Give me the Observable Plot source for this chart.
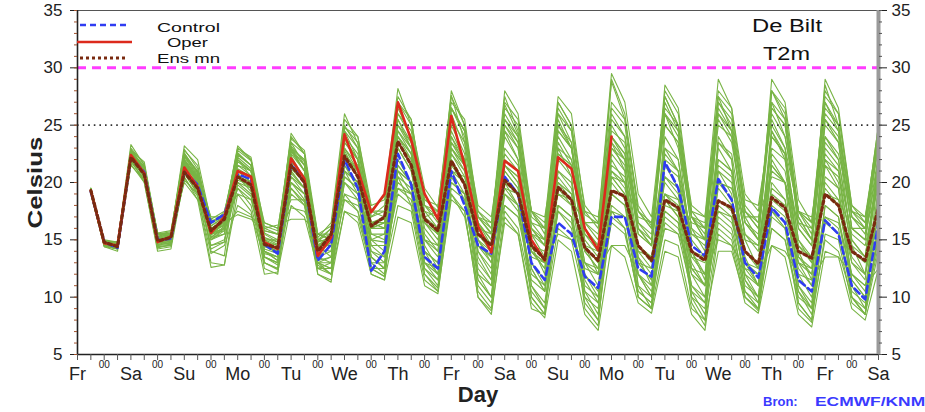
<!DOCTYPE html>
<html><head><meta charset="utf-8">
<script src="https://cdn.jsdelivr.net/npm/d3@7"></script>
<script src="https://cdn.jsdelivr.net/npm/@observablehq/plot@0.6"></script>
<style>
body{margin:0;background:#fff;font-family:"Liberation Sans",Arial,sans-serif;}
#wrap{position:relative;width:925px;height:412px;overflow:hidden;background:#fff;}
#over{position:absolute;left:0;top:0;pointer-events:none;}
</style></head><body><div id="wrap"></div>
<script>
// ---- tick labels ----
const dayLabels = ["Fr","Sa","Su","Mo","Tu","We","Th","Fr","Sa","Su","Mo","Tu","We","Th","Fr","Sa"];
const yTicks = [5, 10, 15, 20, 25, 30, 35];
const yMinorTicks = d3.range(5, 36, 1);
const dayTicks = d3.range(0, 16);
const midnightTicks = d3.range(0.5, 15, 1);
const sixHourTicks = d3.range(0, 15.01, 0.25);
const warnLevel = 30;
const summerLevel = 25;

// ---- series (6-hourly, lead days 0.25 .. 15) ----
const operT = [19.3,14.7,14.5,22.4, 20.8,14.8,15.3,21.3, 19.6,15.6,17.0,21.0, 20.5,14.8,14.2,22.1,
  20.3,13.6,15.2,24.2, 21.1,17.4,19.0,27.0, 23.7,19.0,16.8,25.8, 21.5,16.2,13.9,21.9,
  21.0,15.0,13.2,22.2, 21.2,16.0,14.1,24.0];
const controlT = [19.2,14.8,14.3,22.2, 20.9,15.0,15.1,21.0, 19.8,16.5,17.2,20.7, 20.3,14.6,13.8,21.6,
  20.0,13.2,14.6,22.0, 19.5,12.3,14.0,22.5, 19.8,13.5,12.5,21.0, 18.0,14.5,13.8,20.5,
  19.0,13.0,11.5,16.5, 15.5,11.8,10.8,17.0, 17.0,12.5,11.8,21.8, 19.5,14.5,13.6,20.3,
  18.5,13.0,11.7,17.8, 16.5,11.5,10.5,16.7, 15.5,11.0,9.8,16.5];
const ensMeanT = [19.3,14.8,14.4,22.2, 20.7,14.9,15.2,20.9, 19.5,15.8,16.8,20.5, 19.8,14.6,14.3,21.5,
  20.0,14.0,15.5,22.3, 20.5,16.2,17.0,23.6, 21.5,16.8,15.8,21.9, 19.8,15.5,14.5,20.2,
  19.0,14.5,13.3,19.6, 18.5,14.3,13.2,19.3, 18.8,14.5,13.2,18.5, 17.8,14.0,13.2,18.4,
  17.8,14.0,12.9,18.7, 17.8,14.0,13.4,19.0, 18.0,14.0,13.2,17.8];

// ---- ensemble members ----
const member01 = [19.4,14.9,14.6,22.9, 21.2,15.3,15.6,22.6, 20.8,16.4,17.4,22.8, 21.9,15.6,15.0,24.3, 22.5,15.2,16.5,26.0, 23.4,17.6,18.8,28.2, 25.0,19.5,17.8,27.6, 23.5,17.0,15.6,26.8, 24.2,17.5,16.0,25.5, 23.0,17.2,16.4,28.8, 25.5,18.0,16.2,26.0, 23.0,17.0,15.0,27.5, 24.5,17.5,16.0,27.0, 24.0,17.5,15.5,28.5, 25.0,17.0,15.5,24.5];
const member02 = [19.1,14.5,14.2,21.8, 20.3,14.3,14.6,20.4, 18.8,13.8,14.5,18.0, 17.2,13.5,13.0,19.5, 18.3,12.8,12.0,19.0, 17.5,12.5,11.8,20.5, 18.0,12.0,10.8,19.0, 17.0,11.0,9.5,17.5, 16.0,10.5,9.0,16.0, 15.0,10.0,8.0,17.5, 16.0,10.0,9.0,18.5, 17.0,10.5,8.5,16.0, 15.0,10.0,9.0,17.5, 16.0,10.5,8.5,15.0, 14.0,10.0,9.0,14.5];
const member03 = [19.3,14.6,14.4,22.0, 20.6,14.8,15.0,21.0, 19.4,15.5,16.4,20.6, 20.0,14.4,14.0,22.3, 20.3,14.0,15.0,23.0, 21.0,16.0,16.5,24.0, 22.0,16.5,15.0,22.5, 20.5,15.0,14.0,21.0, 19.5,14.0,12.5,20.5, 19.0,14.0,12.5,19.0, 18.0,14.0,13.5,20.0, 18.5,13.5,12.0,19.5, 18.0,13.0,12.0,18.0, 17.0,13.0,12.5,20.0, 18.5,13.5,12.0,17.0];
const member04 = [19.2,14.8,14.6,22.2, 20.9,15.1,15.4,20.8, 19.0,16.0,16.5,17.2, 16.8,15.8,15.5,17.8, 17.5,15.0,14.8,18.5, 18.0,16.5,16.0,19.5, 19.0,17.5,17.0,20.0, 19.0,15.5,14.5,18.0, 17.0,14.0,13.0,15.5, 15.0,13.0,12.5,14.5, 14.5,12.0,11.0,16.0, 15.5,12.5,12.0,15.0, 14.5,12.5,12.0,14.5, 14.0,12.0,11.5,13.5, 13.5,12.0,11.0,12.5];
const member05 = [19.5,14.7,14.7,22.7, 21.0,15.0,15.3,22.0, 20.0,15.2,16.2,21.5, 21.0,14.5,13.8,23.0, 21.0,13.8,14.8,24.5, 22.0,16.0,17.0,26.5, 24.0,17.5,16.0,26.0, 23.0,16.0,14.5,25.0, 23.0,16.0,14.5,27.0, 25.0,18.0,16.5,29.5, 27.0,19.0,17.0,27.5, 25.0,18.0,17.0,29.0, 26.5,19.0,17.5,26.0, 24.0,17.0,15.0,27.0, 24.5,17.5,16.5,25.0];
const member06 = [19.0,14.4,14.0,22.0, 20.0,14.2,14.4,21.0, 19.0,13.0,12.8,20.0, 19.0,12.5,12.0,21.0, 19.5,12.0,11.3,21.5, 19.5,12.5,11.8,22.0, 20.0,12.0,10.5,21.0, 19.0,10.5,9.0,20.0, 18.0,10.0,8.5,19.5, 18.0,9.0,7.5,20.0, 18.5,10.0,9.0,21.5, 19.5,9.5,7.5,21.0, 19.0,10.5,9.0,22.0, 20.0,9.5,8.0,21.5, 19.5,10.0,8.5,20.0];
const member07 = [19.3,14.9,14.8,23.3, 21.5,15.5,15.7,22.0, 20.5,15.0,16.0,22.0, 21.0,14.0,13.5,23.5, 21.5,13.5,14.0,22.5, 21.0,15.0,15.5,25.0, 23.0,16.0,14.5,24.0, 21.5,14.0,12.5,22.5, 21.0,13.0,11.5,23.5, 21.5,14.5,13.0,22.0, 20.0,13.0,11.5,24.0, 22.0,14.0,12.0,23.0, 21.0,14.0,13.0,25.0, 23.0,15.0,13.0,24.0, 22.0,15.0,13.5,22.0];
const member08 = [19.2,14.6,14.5,22.5, 20.8,14.6,14.9,21.5, 20.0,16.8,17.5,21.8, 21.0,16.0,15.5,20.0, 19.0,14.5,13.5,21.0, 20.0,14.0,13.0,23.0, 21.0,15.0,14.0,25.5, 23.5,16.5,15.0,24.0, 22.0,15.0,13.0,21.0, 19.5,13.0,11.0,20.5, 19.0,12.0,10.0,19.0, 17.5,11.0,9.5,20.0, 18.5,12.5,11.0,21.5, 20.0,13.0,11.0,19.5, 18.0,12.0,10.5,19.5];
const member09 = [19.4,14.8,14.3,22.1, 20.5,14.9,15.1,21.2, 19.6,15.6,16.0,19.5, 18.5,14.0,13.2,20.5, 19.0,13.0,12.5,20.0, 18.5,12.0,11.5,21.5, 20.0,13.5,12.0,23.0, 21.5,14.5,13.5,25.5, 23.5,16.0,15.0,26.5, 24.5,16.0,14.0,25.0, 23.0,15.5,14.5,28.0, 26.0,17.0,15.5,26.0, 24.0,16.5,15.0,28.0, 26.0,17.5,16.0,27.0, 25.0,17.0,16.0,23.5];
const member10 = [19.1,14.5,14.3,21.6, 20.0,14.0,14.2,20.5, 18.5,12.6,12.8,19.0, 17.5,12.0,12.2,18.0, 17.0,12.5,12.0,17.5, 16.5,12.0,11.5,17.0, 16.5,11.0,10.3,19.0, 17.5,10.0,8.5,17.0, 15.5,9.5,8.2,15.0, 14.0,8.5,7.1,14.5, 13.5,9.5,8.6,14.0, 13.5,8.5,7.1,15.5, 14.5,9.5,8.6,14.5, 13.5,8.5,7.4,14.0, 13.5,9.0,8.0,12.5];
const member11 = [19.3,14.7,14.6,22.3, 21.0,15.6,15.8,22.3, 21.0,16.5,17.0,22.5, 21.5,16.5,16.0,23.0, 22.0,15.5,15.5,23.5, 22.0,17.5,17.5,25.0, 23.5,18.5,18.0,26.5, 24.5,18.0,17.0,25.0, 23.5,17.5,17.0,24.0, 22.0,17.5,17.0,23.5, 22.0,17.5,16.5,25.0, 23.5,17.5,17.0,26.0, 24.5,18.5,18.0,25.5, 23.0,17.5,17.0,24.0, 22.5,17.5,17.0,23.0];
const member12 = [19.2,14.7,14.4,22.4, 21.0,15.0,15.2,21.6, 20.2,15.4,16.6,22.2, 21.2,14.8,14.5,22.5, 21.0,14.5,15.0,23.8, 22.0,15.5,15.0,23.0, 21.0,15.0,13.5,22.0, 20.0,13.0,11.5,19.0, 17.5,12.0,11.0,18.0, 17.0,12.5,12.0,17.5, 17.0,13.0,12.5,19.0, 18.0,13.0,11.0,21.0, 20.0,13.5,11.0,22.5, 21.0,14.5,13.0,23.5, 22.0,15.0,13.5,21.0];
const member13 = [19.4,14.6,14.5,22.6, 21.3,15.0,15.0,22.2, 20.6,15.8,16.5,23.0, 22.0,15.5,14.8,23.5, 22.5,15.0,15.5,25.0, 23.0,17.0,17.5,27.5, 25.5,18.0,16.5,28.0, 25.0,17.0,15.5,27.5, 24.5,16.5,15.0,26.0, 23.5,16.0,14.5,29.0, 26.0,17.5,16.0,27.5, 25.0,17.0,15.0,27.0, 25.0,17.5,16.0,28.0, 25.5,17.0,15.0,29.0, 26.5,18.0,16.5,25.0];
const member14 = [19.3,14.8,14.7,22.0, 20.7,15.2,15.5,20.0, 18.5,16.0,16.2,17.5, 17.0,16.0,16.3,16.8, 16.8,15.5,15.0,19.0, 18.5,15.0,14.0,21.0, 20.0,14.0,13.0,22.5, 21.0,14.5,13.0,22.0, 21.0,14.0,12.5,22.5, 21.5,14.5,13.0,21.0, 20.0,13.5,12.0,18.0, 17.5,12.5,11.0,17.5, 17.0,12.0,11.0,19.0, 18.0,12.5,11.0,17.0, 16.5,12.0,11.0,16.0];
const member15 = [19.2,14.5,14.4,22.8, 21.4,14.7,14.9,21.8, 20.3,15.0,15.8,21.0, 20.0,13.5,12.8,22.0, 20.5,12.5,13.0,22.8, 20.5,13.5,12.5,24.5, 22.5,14.0,12.0,25.0, 22.5,14.0,12.0,24.5, 22.0,13.0,11.0,23.0, 20.5,12.0,10.0,23.5, 21.0,12.0,10.0,23.0, 21.0,12.5,11.0,24.0, 22.0,13.0,11.0,24.5, 22.0,13.5,12.0,22.0, 20.0,13.0,11.5,22.5];
const member16 = [19.0,14.6,14.5,21.5, 20.2,14.5,14.8,20.2, 19.0,14.5,15.0,19.8, 18.8,13.8,13.5,19.5, 18.0,13.0,13.0,20.0, 19.0,14.0,13.5,19.0, 18.0,13.0,12.5,20.5, 18.5,12.0,11.0,18.0, 17.0,11.5,10.5,17.5, 16.5,11.0,10.0,16.5, 15.5,10.5,9.5,16.5, 15.5,10.5,9.5,17.0, 16.0,11.0,10.0,16.0, 15.0,10.0,9.0,16.5, 15.5,10.5,9.5,15.0];
const member17 = [19.5,14.9,14.6,22.5, 21.1,15.3,15.4,22.4, 20.9,16.0,16.8,21.5, 20.6,14.2,13.8,21.8, 20.5,13.5,14.5,23.0, 21.5,16.5,17.0,25.5, 23.0,17.0,16.0,24.5, 22.0,15.5,14.0,20.0, 19.0,14.5,14.0,19.0, 18.0,14.5,14.0,21.0, 19.5,14.5,13.5,22.0, 21.0,15.5,14.5,20.0, 19.5,15.0,14.5,21.5, 20.0,14.5,13.5,22.0, 21.0,15.5,14.5,20.0];
const member18 = [19.3,14.7,14.5,22.2, 21.0,15.0,15.0,22.0, 20.5,15.5,16.0,22.5, 21.5,15.0,14.5,23.0, 22.0,14.5,15.5,24.5, 23.0,17.0,18.0,26.0, 24.5,18.0,17.0,27.0, 25.5,17.5,16.0,28.0, 26.0,17.5,15.5,26.0, 24.5,16.5,15.0,25.5, 24.0,16.0,14.5,26.5, 25.0,17.0,16.0,27.5, 26.0,17.5,16.5,28.0, 26.5,17.5,16.5,26.5, 25.0,17.0,16.0,24.0];
const member19 = [19.2,14.8,14.6,22.6, 21.2,14.9,15.0,21.9, 20.4,15.2,16.0,20.8, 19.5,13.5,13.0,21.0, 19.5,13.0,13.5,21.5, 20.0,14.5,14.5,21.5, 20.0,14.0,13.0,23.5, 22.0,15.0,13.0,21.5, 20.0,12.5,10.5,20.0, 18.5,11.5,9.5,20.5, 19.0,12.0,10.5,17.0, 16.0,12.0,11.0,18.5, 17.5,11.5,10.0,20.0, 18.5,12.0,10.0,18.0, 17.0,11.5,10.0,17.5];
const member20 = [19.4,14.6,14.5,22.3, 20.8,14.7,15.1,21.4, 20.1,15.9,16.8,20.2, 19.8,15.2,14.8,21.5, 20.5,14.8,15.2,22.0, 21.0,16.5,16.8,23.5, 22.0,16.5,15.5,24.0, 22.0,15.5,14.5,23.0, 21.5,15.5,14.5,24.5, 23.0,16.0,14.5,24.0, 22.5,16.0,15.0,21.5, 20.5,15.5,15.0,22.0, 21.0,15.5,14.5,23.0, 22.0,16.0,14.5,25.0, 23.5,16.0,15.0,22.0];
const member21 = [19.1,14.7,14.6,22.0, 20.6,14.8,15.0,21.0, 19.8,15.0,15.5,20.4, 19.5,14.0,13.5,20.5, 19.5,13.5,13.0,21.0, 20.0,13.5,12.5,20.5, 19.5,12.5,11.0,21.5, 20.0,12.0,10.0,20.5, 19.0,11.0,9.0,18.0, 17.0,9.5,8.0,17.0, 16.0,10.0,9.0,15.0, 14.5,9.0,8.0,14.0, 14.0,10.0,9.0,16.0, 15.0,9.5,8.0,15.5, 15.0,9.5,8.5,14.0];
const member22 = [19.5,14.8,14.7,23.0, 21.6,15.4,15.6,22.8, 21.5,16.2,17.0,23.2, 22.0,15.8,15.5,24.0, 22.5,15.0,16.0,25.5, 24.0,17.5,17.0,27.0, 25.0,18.0,17.5,27.5, 25.0,17.0,16.0,27.0, 25.5,17.0,16.0,27.0, 25.0,16.5,15.5,26.0, 24.0,16.5,15.5,27.0, 24.5,16.0,15.0,25.0, 24.0,16.5,15.0,26.5, 25.0,16.5,15.0,26.0, 24.5,16.0,15.0,23.5];
const member23 = [19.3,14.6,14.3,22.1, 20.9,14.6,14.7,21.2, 19.7,14.2,14.8,21.0, 20.0,13.0,12.5,20.0, 18.5,12.5,12.5,18.5, 17.5,13.0,13.0,19.5, 18.5,13.0,12.0,20.0, 19.0,12.5,11.0,21.5, 20.5,12.5,10.5,21.0, 20.0,12.0,10.5,22.5, 21.0,13.0,11.5,20.5, 19.0,12.0,10.0,21.5, 20.5,12.0,10.0,19.5, 18.5,11.0,9.5,20.5, 19.5,11.5,10.0,18.5];
const member24 = [19.2,14.7,14.6,22.4, 21.0,15.2,15.3,21.7, 20.0,15.6,16.3,21.2, 20.5,14.6,14.0,22.8, 21.5,14.8,16.0,24.0, 22.5,16.5,16.5,25.5, 23.5,17.0,15.5,23.0, 21.0,16.0,15.5,21.5, 20.5,15.5,15.0,23.0, 22.0,15.5,14.5,24.5, 23.5,16.0,14.5,23.0, 22.0,15.0,13.5,23.5, 22.5,15.5,14.0,24.0, 22.5,15.0,13.5,21.5, 20.5,14.5,13.5,21.0];
const member25 = [19.4,14.9,14.8,22.0, 21.5,15.6,15.2,22.9, 21.2,16.8,16.0,22.6, 21.5,15.0,14.2,23.2, 21.8,14.6,15.0,24.8, 23.5,16.5,16.0,26.0, 24.0,17.0,15.5,26.5, 24.5,16.5,14.5,26.0, 24.0,15.5,13.5,24.5, 23.0,15.5,14.0,26.5, 25.0,16.5,15.0,28.5, 26.5,17.5,16.0,25.5, 23.5,16.5,15.5,27.0, 25.5,16.0,14.5,25.5, 24.0,16.0,15.0,22.5];
const member26 = [19.1,14.4,14.2,22.2, 20.4,14.4,14.5,21.8, 20.2,14.0,13.6,22.0, 20.5,13.0,12.4,22.8, 21.0,13.0,12.0,22.0, 20.5,13.0,12.0,23.5, 21.5,13.0,11.5,22.0, 20.0,11.5,10.0,21.0, 19.5,10.0,8.5,22.0, 20.5,10.5,8.5,23.0, 21.5,11.0,9.0,22.5, 21.0,10.0,8.0,23.5, 22.0,11.5,9.5,24.5, 22.5,11.0,9.0,23.0, 21.5,11.0,9.0,21.5];
const member27 = [19.3,14.7,14.6,22.0, 20.6,15.5,15.6,21.5, 20.5,17.0,17.0,19.0, 18.5,16.5,16.0,18.5, 18.5,15.5,15.0,20.5, 19.5,16.0,16.5,21.0, 20.0,17.0,17.5,21.0, 20.5,17.0,16.5,19.5, 19.0,16.5,16.0,19.0, 18.5,16.5,16.5,20.5, 20.0,17.0,16.5,19.0, 18.5,16.5,16.0,20.0, 19.5,17.0,17.0,20.5, 20.0,16.5,16.0,19.0, 18.5,16.0,16.0,19.5];
const member28 = [19.4,14.8,14.6,22.6, 21.0,15.0,15.1,22.3, 20.7,15.6,16.6,22.0, 21.0,14.5,14.0,22.7, 21.0,14.0,14.8,23.8, 22.0,16.0,16.0,24.5, 23.0,16.5,15.5,26.5, 24.0,16.5,15.0,25.5, 24.0,16.0,14.5,25.0, 23.0,15.0,13.5,24.0, 22.5,15.5,14.5,26.0, 24.0,16.0,14.0,27.0, 25.5,17.0,15.0,29.0, 27.0,18.5,16.5,28.0, 26.0,18.0,17.0,24.5];
const member29 = [19.2,14.6,14.4,22.0, 20.5,14.5,14.6,21.0, 19.8,15.5,15.8,19.5, 18.0,13.0,12.5,19.0, 18.0,12.0,11.5,17.5, 17.0,12.5,12.5,18.0, 17.5,11.5,10.5,18.5, 17.5,10.0,8.8,16.5, 15.5,9.0,8.5,18.0, 17.0,10.0,9.0,19.0, 18.0,11.0,10.0,17.5, 16.5,10.0,9.0,18.0, 17.0,10.0,8.8,17.0, 16.0,9.0,7.8,18.0, 17.0,10.0,8.5,16.0];
const member30 = [19.3,14.8,14.5,22.4, 20.9,14.9,15.0,21.6, 20.4,16.2,17.0,21.0, 20.4,15.2,14.6,21.2, 20.0,14.2,14.0,22.5, 21.0,15.0,14.8,24.0, 22.5,15.5,14.0,23.0, 21.5,15.0,13.5,21.5, 20.0,14.0,13.0,22.5, 21.5,14.0,12.5,23.0, 22.0,14.5,13.0,20.5, 19.5,14.0,13.5,22.0, 21.0,14.0,12.5,21.0, 20.0,13.5,12.5,22.5, 21.0,14.0,13.0,20.5];
const member31 = [19.2,14.5,14.3,22.7, 21.3,14.8,14.7,22.5, 21.0,15.2,15.5,22.4, 21.5,14.0,13.2,23.0, 21.5,13.2,13.5,23.5, 22.0,14.5,13.5,24.0, 22.5,14.5,12.5,23.5, 21.5,13.5,11.5,24.5, 23.0,14.5,12.0,25.0, 23.5,14.5,12.0,24.0, 22.0,13.5,11.0,25.0, 23.5,14.0,11.5,26.5, 24.5,15.0,12.5,24.0, 22.5,14.0,11.5,25.5, 23.5,14.5,12.0,22.0];
const member32 = [19.3,14.6,14.6,22.1, 20.8,15.1,15.3,21.2, 19.9,15.8,16.5,20.0, 19.5,15.0,15.0,20.8, 19.5,14.5,14.5,21.0, 19.0,15.5,15.5,20.0, 19.0,15.0,14.5,21.0, 20.0,14.5,13.5,19.5, 18.0,13.5,13.0,20.0, 19.0,13.0,12.0,21.5, 20.5,14.0,12.5,18.5, 17.0,13.5,13.0,17.5, 16.5,13.0,12.5,18.5, 17.5,13.0,12.0,19.0, 18.0,13.0,12.0,18.5];
const member33 = [19.5,15.0,14.8,22.8, 21.8,15.5,15.5,23.2, 22.0,16.6,17.2,23.0, 22.2,16.2,15.8,23.8, 22.8,15.5,16.2,24.8, 24.0,18.0,18.5,27.0, 25.5,18.5,17.5,26.5, 24.5,17.5,16.5,26.5, 25.0,17.5,16.5,27.5, 26.0,17.5,16.0,27.0, 25.5,17.5,16.0,26.0, 24.5,17.0,16.5,28.0, 26.5,18.0,16.5,26.5, 25.0,17.5,16.5,27.5, 26.0,17.5,16.0,24.0];
const member34 = [19.0,14.5,14.2,21.9, 20.2,14.4,14.5,20.8, 19.2,14.5,14.8,20.5, 19.2,13.5,13.0,20.0, 19.0,13.0,12.5,20.5, 19.5,13.5,12.5,21.0, 19.0,12.5,11.5,19.5, 18.5,11.5,10.0,19.0, 18.0,11.0,9.5,17.5, 16.0,10.5,9.5,18.0, 17.0,10.5,9.5,17.5, 16.5,11.0,10.0,16.5, 15.5,10.5,9.5,17.5, 16.5,10.5,9.0,17.0, 16.0,10.0,8.5,15.5];
const members = [member01,member02,member03,member04,member05,member06,member07,member08,member09,member10,member11,member12,
  member13,member14,member15,member16,member17,member18,member19,member20,member21,member22,member23,member24,
  member25,member26,member27,member28,member29,member30,member31,member32,member33,member34];

// ---- build tables ----
const leadDays = d3.range(1, 61).map(i => i / 4);
const toRows = (vals, name) => vals.map((v, i) => ({t: leadDays[i], v, m: name}));
const ensRows = members.flatMap((vals, k) => toRows(vals, "m" + k));
const operRows = toRows(operT, "oper");
const controlRows = toRows(controlT, "control");
const meanRows = toRows(ensMeanT, "mean");

const green = "#78b445", blue = "#2f3cf2", red = "#dc2a1c", brown = "#7a2a10";

const chart = Plot.plot({
  width: 925, height: 412,
  marginLeft: 77, marginRight: 47, marginTop: 10, marginBottom: 58,
  style: {fontFamily: "Liberation Sans, Arial, sans-serif", background: "white", color: "#222", overflow: "visible"},
  x: {domain: [0, 15]},
  y: {domain: [5, 35]},
  marks: [
    Plot.line(ensRows, {x: "t", y: "v", z: "m", stroke: green, strokeWidth: 1.1}),
    Plot.ruleY([warnLevel], {stroke: "#ff3cff", strokeWidth: 3, strokeDasharray: "9,6"}),
    Plot.ruleY([summerLevel], {stroke: "#333", strokeWidth: 1.6, strokeDasharray: "1.6,4"}),
    Plot.line(controlRows, {x: "t", y: "v", stroke: blue, strokeWidth: 2.6, strokeDasharray: "7,4"}),
    Plot.line(operRows, {x: "t", y: "v", stroke: red, strokeWidth: 2.6}),
    Plot.line(meanRows, {x: "t", y: "v", stroke: brown, strokeWidth: 3.2, strokeDasharray: "3.2,3.2"}),
    Plot.ruleY([35], {stroke: "#555", strokeWidth: 1.2}),
    Plot.ruleY([5], {stroke: "#222", strokeWidth: 1.6}),
    Plot.ruleX([0], {stroke: "#222", strokeWidth: 1.6}),
    Plot.ruleX([15], {stroke: "#9a9a9a", strokeWidth: 4}),
    Plot.axisY(yTicks, {anchor: "left", tickSize: 7, tickPadding: 8, fontSize: 17, label: "Celsius", labelAnchor: "center", labelOffset: 50, labelArrow: "none"}),
    Plot.axisY(yMinorTicks, {anchor: "left", tickSize: 3, stroke: "#a0522d", fill: "none", label: null}),
    Plot.axisY(yTicks, {anchor: "right", tickSize: 8, tickPadding: 5, fontSize: 17, label: null}),
    Plot.axisY(yMinorTicks, {anchor: "right", tickSize: 3, stroke: "#555", fill: "none", label: null}),
    Plot.axisX(dayTicks, {anchor: "bottom", tickSize: 0, tickPadding: 13, fontSize: 18, tickFormat: i => dayLabels[i], label: "Day", labelAnchor: "center", labelOffset: 47, labelArrow: "none"}),
    Plot.axisX(midnightTicks, {anchor: "bottom", tickSize: 0, tickPadding: 6, fontSize: 10, tickFormat: () => "00", label: null}),
    Plot.axisX(sixHourTicks, {anchor: "bottom", tickSize: 6, stroke: "#555", fill: "none", label: null})
  ]
});

// style axis titles
chart.querySelectorAll("text").forEach(t => {
  if (t.textContent === "Celsius") {
    t.style.fontSize = "20px"; t.style.fontWeight = "bold";
    t.setAttribute("textLength", "92"); t.setAttribute("lengthAdjust", "spacingAndGlyphs");
  }
  if (t.textContent === "Day") {
    t.style.fontSize = "22px"; t.style.fontWeight = "bold";
  }
});

const wrap = document.getElementById("wrap");
wrap.appendChild(chart);

// legend and annotations overlay
const ns = "http://www.w3.org/2000/svg";
const over = document.createElementNS(ns, "svg");
over.setAttribute("id", "over"); over.setAttribute("width", 925); over.setAttribute("height", 412);
over.innerHTML = `
  <g font-family="Liberation Sans, Arial, sans-serif" fill="#111">
    <line x1="80" y1="25" x2="128" y2="25" stroke="${blue}" stroke-width="2.6" stroke-dasharray="6,4"/>
    <line x1="77" y1="42" x2="132" y2="42" stroke="${red}" stroke-width="2.6"/>
    <line x1="80" y1="58" x2="128" y2="58" stroke="${brown}" stroke-width="3" stroke-dasharray="3,3"/>
    <text x="157" y="32" font-size="13" textLength="63" lengthAdjust="spacingAndGlyphs">Control</text>
    <text x="167" y="47" font-size="13" textLength="41" lengthAdjust="spacingAndGlyphs">Oper</text>
    <text x="157" y="63" font-size="13" textLength="63" lengthAdjust="spacingAndGlyphs">Ens mn</text>
    <text x="752" y="32" font-size="18" textLength="70" lengthAdjust="spacingAndGlyphs">De Bilt</text>
    <text x="763" y="60" font-size="19" textLength="47" lengthAdjust="spacingAndGlyphs">T2m</text>
    <text x="763" y="406" font-size="13" font-weight="bold" fill="#3a3aff">Bron:</text>
    <text x="815" y="406" font-size="13" font-weight="bold" fill="#3a3aff" textLength="115" lengthAdjust="spacingAndGlyphs">ECMWF/KNMI</text>
  </g>`;
wrap.appendChild(over);
</script>
</body></html>
